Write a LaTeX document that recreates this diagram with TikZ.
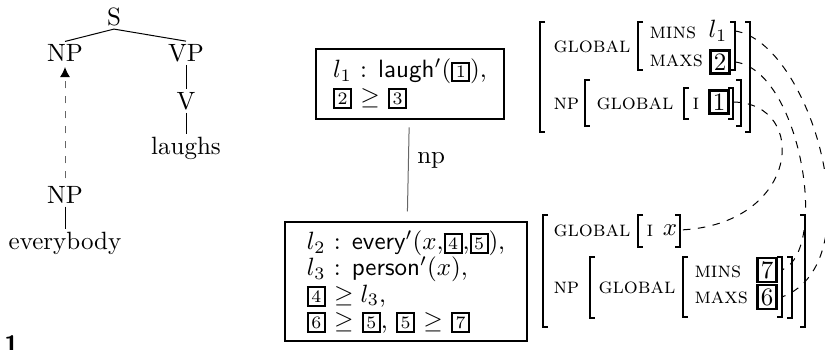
\documentclass[tikz,border=0pt]{standalone}
\usepackage{tikz}
\usetikzlibrary{positioning,calc,arrows.meta}
\usepackage{amsmath}

\newcommand{\tagsm}[1]{{\setlength{\fboxsep}{1pt}\setlength{\fboxrule}{0.8pt}\fbox{\scriptsize #1}}}
\newcommand{\tagbig}[1]{{\setlength{\fboxsep}{0.8pt}\setlength{\fboxrule}{1pt}\fbox{#1}}}

\begin{document}
\begin{tikzpicture}[
        x=0.4pt, y=-0.4pt,
        cat/.style={inner sep=1pt},
        branch/.style={thin},
        sembox/.style={draw,thick,align=left,inner sep=2pt,font=\fontsize{10}{10.5}\selectfont},
        feat/.style={anchor=west,inner sep=0pt,font=\fontsize{8.8}{11}\selectfont\scshape},
        val/.style={inner sep=0pt},
        brk/.style={line width=0.7pt},
        link/.style={dashed,thin}
    ]

    \useasboundingbox (0,0) rectangle (825,350);

    % Tree
    \node[cat] (S) at (114,17) {S};
    \node[cat] (NPa) at (65,53) {NP};
    \node[cat] (VP) at (186,53) {VP};
    \node[cat] (V) at (186,101) {V};
    \node[cat] (laughs) at (186,148) {laughs};
    \node[cat] (NPb) at (65,195) {NP};
    \node[cat] (everybody) at (65,243) {everybody};

    \foreach \a/\b in {S/NPa, S/VP, VP/V, V/laughs, NPb/everybody}
        \draw[branch] (\a.south) -- (\b.north);
    \draw[dashed,gray!80!black,-{Latex[length=4pt,width=4pt,black]},shorten <=2pt,shorten >=1pt] (NPb) -- (NPa);

    % Semantic boxes
    \node[sembox,minimum width=75.2pt,minimum height=28pt] (top) at (410,84)
        {$l_1$ : \textsf{laugh}$'$(\tagsm{1}),\\ \tagsm{2} $\geq$ \tagsm{3}};
    \node[sembox,minimum width=96.8pt,minimum height=47.6pt] (bot) at (406,282)
        {$l_2$ : \textsf{every}$'(x,$\tagsm{4}$,$\tagsm{5}$)$,\\
         $l_3$ : \textsf{person}$'(x)$,\\
         \tagsm{4} $\geq l_3$,\\
         \tagsm{6} $\geq$ \tagsm{5}, \tagsm{5} $\geq$ \tagsm{7}};
    \draw[gray!80!black,shorten <=3pt,shorten >=4pt] (top) -- node[right,pos=0.4,black] {np} (bot);

    % Feature structure of the upper box
    \node[feat] (gA) at (553,47) {global};
    \node[feat] (minsA) at (649,33) {mins};
    \node[feat] (maxsA) at (649,61) {maxs};
    \node[val] (vl1) at (718,31) {$l_1$};
    \node[val] (v2) at (720,62) {\tagbig{2}};
    \node[feat] (npA) at (553,104) {np};
    \node[feat] (gA2) at (596,104) {global};
    \node[feat] (iA) at (692,104) {i};
    \node[val] (v1) at (719,102) {\tagbig{1}};

    % Feature structure of the lower box
    \node[feat] (gB) at (553,231) {global};
    \node[feat] (iB) at (646,231) {i};
    \node[val] (vx) at (670,230) {$x$};
    \node[feat] (npB) at (553,288) {np};
    \node[feat] (gB2) at (598,288) {global};
    \node[feat] (minsB) at (694,272) {mins};
    \node[feat] (maxsB) at (694,298) {maxs};
    \node[val] (v7) at (767,270) {\tagbig{7}};
    \node[val] (v6) at (767,297) {\tagbig{6}};

    % Brackets: left/right/top/bottom
    \foreach \l/\r/\t/\b in {540/750/22/132, 638/735/22/70, 585/741/80/126, 684/733/88/119,
                             543/805/215/327, 638/680/215/247, 590/792/257/318, 683/782/257/317}
    {
        \draw[brk] (\l+5,\t) -- (\l,\t) -- (\l,\b) -- (\l+5,\b);
        \draw[brk] (\r-5,\t) -- (\r,\t) -- (\r,\b) -- (\r-5,\b);
    }

    % Reentrancies
    \coordinate (edgeA) at (735,0);
    \coordinate (edgeA2) at (733,0);
    \coordinate (edgeB) at (680,0);
    \coordinate (edgeB2) at (782,0);
    \draw[link] (vl1 -| edgeA) .. controls (810,42) and (875,262) .. (v6 -| edgeB2);
    \draw[link] (v2 -| edgeA) .. controls (800,70) and (830,250) .. (v7 -| edgeB2);
    \draw[link] (v1 -| edgeA2) .. controls (810,103) and (800,225) .. (vx -| edgeB);

    % page number
    \node[anchor=north west,inner sep=0pt,font=\sffamily\bfseries] (pg) at (4,335) {1};

\end{tikzpicture}
\end{document}
